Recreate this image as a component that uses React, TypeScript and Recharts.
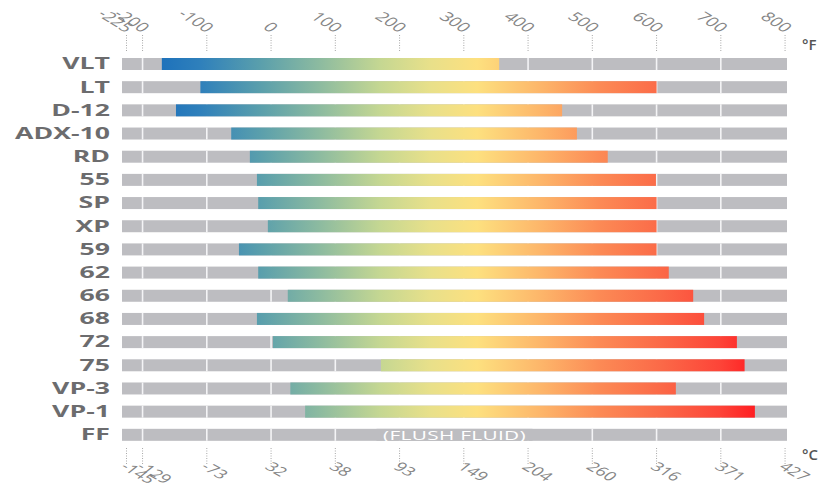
import React from 'react';
import { BarChart, Bar, XAxis, YAxis } from 'recharts';

const oils = ['VLT', 'LT', 'D-12', 'ADX-10', 'RD', '55', 'SP', 'XP', '59', '62', '66', '68', '72', '75', 'VP-3', 'VP-1', 'FF'];
const lowF: (number | null)[] = [-170, -110, -148, -62, -33, -22, -20, -5, -50, -20, 26, -22, 3, 171, 30, 53, null];
const highF: (number | null)[] = [355, 600, 453, 476, 524, 599, 600, 600, 600, 619, 657, 674, 725, 737, 630, 753, null];
const notes = ['', '', '', '', '', '', '', '', '', '', '', '', '', '', '', '', '(FLUSH FLUID)'];
const fTicks = [-225, -200, -100, 0, 100, 200, 300, 400, 500, 600, 700, 800];
const cTickLabels = ['-145', '-129', '-73', '32', '38', '93', '149', '204', '260', '316', '371', '427'];
const gridTicks = [-200, -100, 0, 100, 200, 300, 400, 500, 600, 700];
const scaleMin = -232;
const scaleMax = 803;

const heatStops: [number, string][] = [
  [-170, '#1e72bb'],
  [-110, '#2f80bb'],
  [-17, '#5a9fac'],
  [76, '#8dbba0'],
  [170, '#c5d792'],
  [247, '#e8e08a'],
  [321, '#fde07f'],
  [419, '#fdb66a'],
  [512, '#fc8a55'],
  [605, '#fb6a48'],
  [699, '#fd4438'],
  [753, '#ff1e22'],
];

const data = oils.map((name, i) => ({
  name,
  full: [scaleMin, scaleMax],
  range: lowF[i] == null ? null : [lowF[i], highF[i]],
  note: notes[i],
}));

const GRAY = '#bdbdc1';
const TEXT = '#6c6c6e';
const AXIS_TEXT = '#858585';
const FONT = '"Open Sans", "DejaVu Sans", sans-serif';

const GrayShape = (props: any) => {
  const { x, y, width, height, payload } = props;
  const pos = (v: number) => x + ((v - scaleMin) / (scaleMax - scaleMin)) * width;
  const cx = x + width / 2;
  return (
    <g>
      <rect x={x} y={y} width={width} height={height} fill={GRAY} />
      {gridTicks.map((t) => (
        <line key={t} x1={pos(t)} x2={pos(t)} y1={y} y2={y + height} stroke="#f4f4f6" strokeWidth={1.6} />
      ))}
      {payload.note ? (
        <g>
          <rect x={cx - 78} y={y} width={156} height={height} fill={GRAY} />
          <text
            transform={`translate(${cx},${y + height / 2}) scale(1.6,1)`}
            dy="0.37em"
            textAnchor="middle"
            fill="#ffffff"
            fontSize={13}
            fontFamily={FONT}
            letterSpacing={0.2}
          >
            {payload.note}
          </text>
        </g>
      ) : null}
    </g>
  );
};

const ColorShape = (props: any) => {
  const { x, y, width, height, payload, index } = props;
  if (!payload.range) return null;
  const [lo, hi] = payload.range;
  const ppu = width / (hi - lo);
  const gx1 = x - (lo - scaleMin) * ppu;
  const gx2 = gx1 + (scaleMax - scaleMin) * ppu;
  const id = `heat-${index}`;
  return (
    <g>
      <defs>
        <linearGradient id={id} gradientUnits="userSpaceOnUse" x1={gx1} x2={gx2} y1={0} y2={0}>
          {heatStops.map(([v, c]) => (
            <stop key={v} offset={(v - scaleMin) / (scaleMax - scaleMin)} stopColor={c} />
          ))}
        </linearGradient>
      </defs>
      <rect x={x} y={y} width={width} height={height} fill={`url(#${id})`} />
    </g>
  );
};

const CatTick = (props: any) => {
  const { x, y, payload } = props;
  return (
    <text
      transform={`translate(${x - 12},${y}) scale(1.72,1)`}
      dy="0.37em"
      textAnchor="end"
      fill={TEXT}
      fontSize={15.5}
      fontWeight={700}
      fontFamily={FONT}
    >
      {payload.value}
    </text>
  );
};

const TopTick = (props: any) => {
  const { x, y, payload } = props;
  const tx = x - 1;
  const ty = y - 19;
  return (
    <g>
      <line x1={x} x2={x} y1={y - 17} y2={y - 1} stroke="#a8a8a8" strokeDasharray="1 1.5" />
      <text
        transform={`translate(${tx},${ty}) scale(1.5,1) rotate(43)`}
        textAnchor="end"
        fill={AXIS_TEXT}
        fontSize={13}
        fontFamily={FONT}
      >
        {payload.value}
      </text>
    </g>
  );
};

const BottomTick = (props: any) => {
  const { x, y, index } = props;
  const tx = x - 7;
  const ty = y + 22;
  return (
    <g>
      <line x1={x} x2={x} y1={y + 2} y2={y + 19} stroke="#a8a8a8" strokeDasharray="1 1.5" />
      <text
        transform={`translate(${tx},${ty}) scale(1.5,1) rotate(40)`}
        textAnchor="start"
        fill={AXIS_TEXT}
        fontSize={12.5}
        fontFamily={FONT}
      >
        {cTickLabels[index]}
      </text>
    </g>
  );
};

export default function App() {
  return (
    <div style={{ position: 'absolute', left: 0, top: 0, width: 819, height: 487, background: '#fff' }}>
      <BarChart
        width={819}
        height={487}
        data={data}
        layout="vertical"
        margin={{ top: 0, right: 32, bottom: 0, left: 0 }}
        barSize={12}
        barGap={-12}
      >
        <XAxis
          xAxisId="f"
          type="number"
          orientation="top"
          domain={[scaleMin, scaleMax]}
          ticks={fTicks}
          allowDataOverflow
          height={52}
          axisLine={false}
          tickLine={false}
          tickSize={0}
          tickMargin={0}
          interval={0}
          tick={<TopTick />}
        />
        <XAxis
          xAxisId="c"
          type="number"
          orientation="bottom"
          domain={[scaleMin, scaleMax]}
          ticks={fTicks}
          allowDataOverflow
          height={41}
          axisLine={false}
          tickLine={false}
          tickSize={0}
          tickMargin={0}
          interval={0}
          tick={<BottomTick />}
        />
        <YAxis
          type="category"
          dataKey="name"
          width={122}
          axisLine={false}
          tickLine={false}
          tickSize={0}
          tickMargin={0}
          interval={0}
          tick={<CatTick />}
        />
        <Bar xAxisId="f" dataKey="full" shape={<GrayShape />} isAnimationActive={false} />
        <Bar xAxisId="f" dataKey="range" shape={<ColorShape />} isAnimationActive={false} />
      </BarChart>
      <div style={{ position: 'absolute', left: 802, top: 34, fontFamily: FONT, fontSize: 15, fontWeight: 600, color: '#555' }}>°F</div>
      <div style={{ position: 'absolute', left: 802, top: 444, fontFamily: FONT, fontSize: 15, fontWeight: 600, color: '#555' }}>°C</div>
    </div>
  );
}
